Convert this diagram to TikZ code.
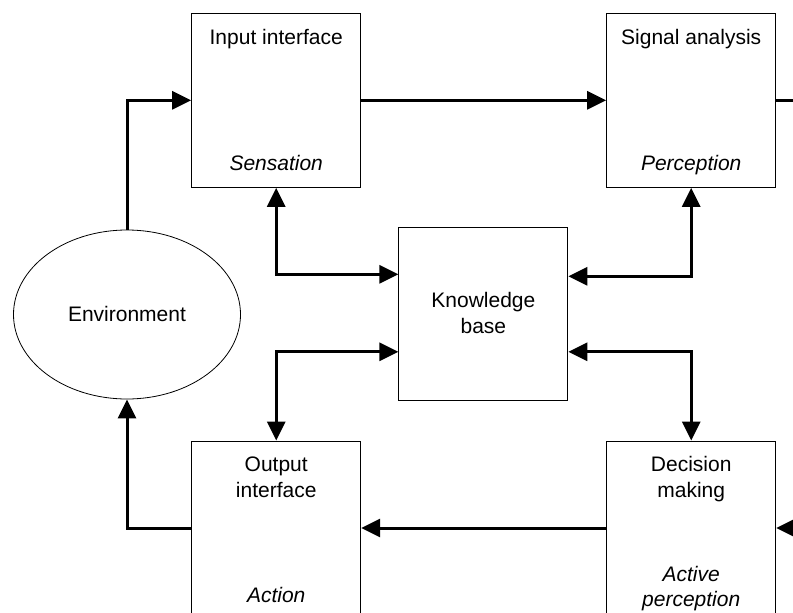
\documentclass[tikz,border=0pt]{standalone}
\usepackage{fontspec}
\setmainfont{Liberation Sans}
\usetikzlibrary{arrows.meta,shapes.geometric,calc}

\begin{document}
\begin{tikzpicture}[x=1pt,y=-1pt,
  block/.style={draw, line width=1pt, minimum width=169pt, minimum height=174pt, inner sep=0pt},
  lbl/.style={font=\fontsize{21}{26}\selectfont, anchor=base, inner sep=0pt},
  tip/.tip={Triangle[length=19pt,width=18pt]},
  flow/.style={line width=3pt, -tip},
  both/.style={line width=3pt, tip-tip},
  plain/.style={line width=3pt}]

\useasboundingbox (0,0) rectangle (793,613);
\clip (0,0) rectangle (793,613);

% processing blocks
\node[block] (inp) at (276.2,100.3) {};
\node[block] (sig) at (691.2,100.3) {};
\node[block, minimum height=173.3pt] (kb) at (483.4,314.3) {};
\node[block] (out) at (276.2,528) {};
\node[block] (dec) at (691.2,528) {};
\node[draw, line width=0.8pt, ellipse, minimum width=227pt, minimum height=169pt, inner sep=0pt] (env) at (127,314.5) {};

% labels
\node[lbl] (inpA) at (276.2,44) {Input interface};
\node[lbl] (inpB) at (276.2,170.3) {\itshape Sensation};
\node[lbl] (sigA) at (691.2,44) {Signal analysis};
\node[lbl] (sigB) at (691.2,170.3) {\itshape Perception};
\node[lbl] (kbA) at (483.4,307) {Knowledge};
\node[lbl] (kbB) at (483.4,333.3) {base};
\node[lbl] (outA) at (276.2,471) {Output};
\node[lbl] (outB) at (276.2,497.3) {interface};
\node[lbl] (outC) at (276.2,602.3) {\itshape Action};
\node[lbl] (decA) at (691.2,471) {Decision};
\node[lbl] (decB) at (691.2,497.3) {making};
\node[lbl] (decC) at (691.2,581.7) {\itshape Active};
\node[lbl] (decD) at (691.2,606.5) {\itshape perception};
\node[lbl] (envA) at (127,321.3) {Environment};

% loose ends leaving the frame
\coordinate (sigout) at (815,100.3);
\coordinate (decin) at (815,528);

% connectors
\draw[flow] (env.north) |- (inp.west);
\draw[flow] (inp.east) -- (sig.west);
\draw[plain] (sig.east) -- (sigout);
\draw[both] (inp.south) |- ([yshift=40pt]kb.west);
\draw[both] ([yshift=38pt]kb.east) -| (sig.south);
\draw[both] ([yshift=-37.5pt]kb.west) -| (out.north);
\draw[both] ([yshift=-37.5pt]kb.east) -| (dec.north);
\draw[flow] (decin) -- (dec.east);
\draw[flow] (dec.west) -- (out.east);
\draw[flow] (out.west) -| (env.south);
\end{tikzpicture}
\end{document}
